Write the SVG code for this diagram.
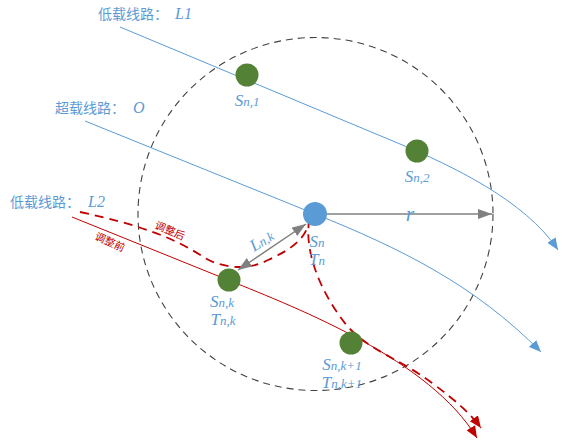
<svg xmlns="http://www.w3.org/2000/svg" width="562" height="441" viewBox="0 0 562 441">
<defs>
<style>
.blue{fill:none;stroke:#5b9bd5;stroke-width:1}
.red{fill:none;stroke:#c00000;stroke-width:1}
.reddash{fill:none;stroke:#c00000;stroke-width:1.8;stroke-dasharray:9,6}
.gray{fill:none;stroke:#808080;stroke-width:1.5}
.circ{fill:none;stroke:#404040;stroke-width:1.1;stroke-dasharray:7,5}
.cn{font-family:"Noto Sans CJK SC","Noto Sans",sans-serif;font-size:14px;fill:#5b9bd5}
.m{font-family:"Liberation Serif",serif;font-style:italic;fill:#5b9bd5}
.lab{font-family:"Liberation Serif",serif;font-style:italic;fill:#5b9bd5;font-size:17px}
.sub{font-size:13px}
.rl{font-family:"Noto Sans CJK SC",sans-serif;font-size:10.5px;fill:#c00000}
.gn{fill:#538135}
.bn{fill:#5b9bd5}
</style>
<marker id="ab" markerUnits="userSpaceOnUse" markerWidth="14" markerHeight="12" refX="12" refY="5" orient="auto"><path d="M0,0 L12,5 L0,10 Z" fill="#5b9bd5"/></marker>
<marker id="ar" markerUnits="userSpaceOnUse" markerWidth="14" markerHeight="12" refX="12" refY="5" orient="auto"><path d="M0,0 L12,5 L0,10 Z" fill="#c00000"/></marker>
<marker id="ag" markerUnits="userSpaceOnUse" markerWidth="16" markerHeight="12" refX="14" refY="5" orient="auto-start-reverse"><path d="M0,0 L14,5 L0,10 Z" fill="#808080"/></marker>
</defs>
<rect width="562" height="441" fill="#ffffff"/>
<ellipse class="circ" cx="315.5" cy="214" rx="177.5" ry="176.5"/>
<g id="connectors">
<path class="blue" d="M120,27 L400,144 C450,165 525,200 558,250" marker-end="url(#ab)"/>
<path class="blue" d="M85,121 L315,214 C400,248 475,285 541,352" marker-end="url(#ab)"/>
<path class="red" d="M72,217 L228,280 C300,309 430,360 477,438" marker-end="url(#ar)"/>
<path class="reddash" d="M80,212 C135,224 172,236 205,258 C222,268 248,271 268,260 C290,250 305,240 309,222 C305,250 318,290 348,327 C372,352 402,360 432,383 C455,400 470,413 481,428" marker-end="url(#ar)"/>
<path class="gray" d="M327,214 L492,214" marker-end="url(#ag)"/>
<path class="gray" d="M306,224 L238,270" stroke-width="1.2" marker-start="url(#ag)" marker-end="url(#ag)"/>
</g>
<g id="labels">
<text class="cn" x="98" y="19">低载线路：<tspan class="m" x="175" font-size="16">L1</tspan></text>
<text class="cn" x="55" y="113">超载线路：<tspan class="m" x="133" font-size="16">O</tspan></text>
<text class="cn" x="10" y="207">低载线路：<tspan class="m" x="88" font-size="16">L2</tspan></text>
<text class="m" x="410" y="221" font-size="22" text-anchor="middle">r</text>
<text class="rl" transform="translate(154,228) rotate(23)">调整后</text>
<text class="rl" transform="translate(94,239) rotate(24)">调整前</text>
<text class="lab" transform="translate(254,252) rotate(-32)">L<tspan class="sub">n,k</tspan></text>
</g>
<g id="node-sn1"><circle class="gn" cx="247" cy="75" r="11.5"/><text class="lab" x="247" y="106" text-anchor="middle">S<tspan class="sub">n,1</tspan></text></g>
<g id="node-sn2"><circle class="gn" cx="417" cy="151" r="11.5"/><text class="lab" x="417" y="182" text-anchor="middle">S<tspan class="sub">n,2</tspan></text></g>
<g id="node-sn"><circle class="bn" cx="315" cy="214" r="12"/><text class="lab" x="317" y="247" text-anchor="middle">S<tspan class="sub">n</tspan></text><text class="lab" x="317" y="265" text-anchor="middle">T<tspan class="sub">n</tspan></text></g>
<g id="node-snk"><circle class="gn" cx="229" cy="280" r="11.5"/><text class="lab" x="222" y="307" text-anchor="middle">S<tspan class="sub">n,k</tspan></text><text class="lab" x="223" y="325" text-anchor="middle">T<tspan class="sub">n,k</tspan></text></g>
<g id="node-snk1"><circle class="gn" cx="351" cy="343" r="11.5"/><text class="lab" x="342" y="370" text-anchor="middle">S<tspan class="sub">n,k+1</tspan></text><text class="lab" x="342" y="388" text-anchor="middle">T<tspan class="sub">n,k+1</tspan></text></g>
</svg>
